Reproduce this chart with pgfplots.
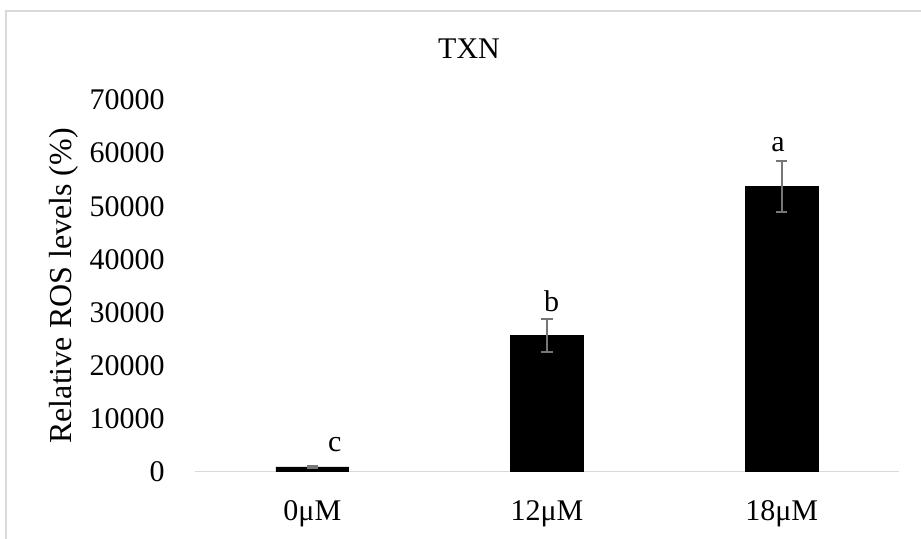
\documentclass[border=0pt]{standalone}
\usepackage{fontspec}
\setmainfont{Liberation Serif}
\usepackage{pgfplots}
\pgfplotsset{compat=1.18}
\definecolor{framegray}{RGB}{217,217,217}
\definecolor{errgray}{RGB}{118,118,118}
\begin{document}
\fontsize{15pt}{18pt}\selectfont
\begin{tikzpicture}
\useasboundingbox (-97.5pt,-33.15pt) rectangle (363pt,235.85pt);
\draw[framegray, line width=0.75pt] (-94.5pt,-40pt) -- (-94.5pt,230.35pt) -- (370pt,230.35pt);
\begin{axis}[
  at={(0pt,0pt)}, anchor=south west,
  scale only axis, width=352pt, height=185.85pt,
  xmin=-0.5, xmax=2.5, ymin=0, ymax=70000,
  ytick={0,10000,20000,30000,40000,50000,60000,70000},
  scaled y ticks=false,
  xtick={0,1,2}, xticklabels={0μM,12μM,18μM},
  axis x line*=bottom, axis y line*=left,
  y axis line style={draw=none},
  x axis line style={draw=framegray, line width=0.75pt, -},
  major tick length=0pt,
  xticklabel style={anchor=base, yshift=-24.15pt, inner sep=0pt},
  yticklabel style={anchor=east, xshift=-15pt, inner sep=0pt},
  ylabel={Relative ROS levels (\%)},
  ylabel style={at={(axis description cs:-0.186,0.5)}, anchor=center, font=\fontsize{16pt}{19pt}\selectfont},
  clip=false,
  /pgf/number format/1000 sep={},
  /pgf/number format/assume math mode=true,
]
\addplot[ybar, bar width=0.31, fill=black, draw=black,
  error bars/.cd, y dir=both, y explicit,
  error bar style={errgray, line width=1pt},
  error mark options={errgray, line width=1pt, mark size=2.9pt, rotate=90}]
  coordinates {(0,900) +- (0,150) (1,25600) +- (0,3100) (2,53700) +- (0,4800)};
\node[anchor=base, inner sep=0pt] at (axis cs:0.096,3770) {c};
\node[anchor=base, inner sep=0pt] at (axis cs:1.02,30130) {b};
\node[anchor=base, inner sep=0pt] at (axis cs:1.984,60260) {a};
\end{axis}
\node[anchor=base, inner sep=0pt] at (137pt,206.7pt) {TXN};
\end{tikzpicture}
\end{document}
